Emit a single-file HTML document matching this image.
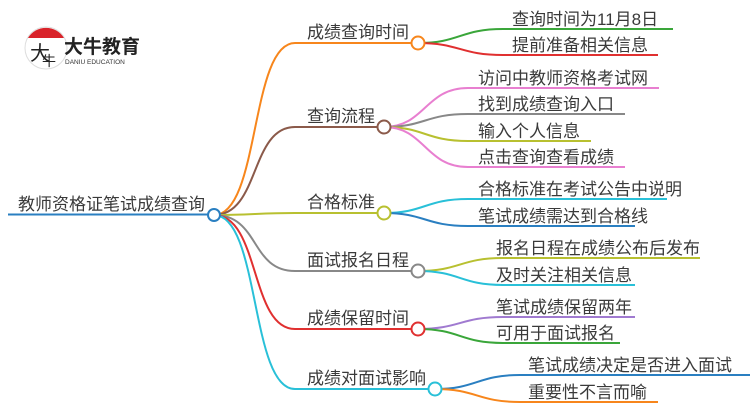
<!DOCTYPE html>
<html><head><meta charset="utf-8"><style>
html,body{margin:0;padding:0;background:#fff;width:750px;height:410px;overflow:hidden}
text{font-family:"Liberation Sans","Noto Sans CJK SC",sans-serif;fill:#3a3a3a}
</style></head><body>
<svg width="750" height="410" viewBox="0 0 750 410" xmlns="http://www.w3.org/2000/svg" fill="none">
<!-- logo -->
<g>
<circle cx="46" cy="48" r="21" fill="#fff" stroke="#ddd" stroke-width="1"/>
<path d="M28 38 A21 21 0 0 1 64 38 Z" fill="#d9232a"/>
<text x="30" y="60" font-size="20" style="fill:#222">大</text>
<text x="42" y="66" font-size="14" style="fill:#222">牛</text>
<text x="64" y="53" font-size="19" font-weight="bold" style="fill:#222">大牛教育</text>
<text x="65" y="64" font-size="6.5" style="fill:#333">DANIU EDUCATION</text>
</g>
<!-- root -->
<text x="18" y="210" font-size="17">教师资格证笔试成绩查询</text>
<path d="M8 214.5 H208" stroke="#2a7fc1" stroke-width="2"/>
<!-- level1 curves -->
<g stroke-width="2">
<path d="M214 215 C260 215 250 43 295 43 H412" stroke="#f7861c"/>
<path d="M214 215 C260 215 250 127 295 127 H378" stroke="#8b5a4a"/>
<path d="M214 215 C250 215 260 213 295 213 H378" stroke="#b8c030"/>
<path d="M214 215 C260 215 250 271 295 271 H412" stroke="#888"/>
<path d="M214 215 C260 215 250 329 295 329 H412" stroke="#e03030"/>
<path d="M214 215 C260 215 250 389 295 389 H429" stroke="#29c0d8"/>
</g>
<g font-size="17">
<text x="307" y="38">成绩查询时间</text>
<text x="307" y="122">查询流程</text>
<text x="307" y="208">合格标准</text>
<text x="307" y="266">面试报名日程</text>
<text x="307" y="324">成绩保留时间</text>
<text x="307" y="384">成绩对面试影响</text>
</g>
<!-- leaves -->
<g stroke-width="2">
<path d="M418 43 C460 43 460 29 503 29 H673" stroke="#3aa63a"/>
<path d="M418 43 C460 43 460 55 503 55 H658" stroke="#e03030"/>
<path d="M384 127 C425 127 425 88 468 88 H659" stroke="#e87fd0"/>
<path d="M384 127 C425 127 425 114 468 114 H625" stroke="#888"/>
<path d="M384 127 C425 127 425 141 468 141 H591" stroke="#b8c030"/>
<path d="M384 127 C425 127 425 167 468 167 H625" stroke="#e87fd0"/>
<path d="M384 213 C425 213 425 199 468 199 H667" stroke="#29c0d8"/>
<path d="M384 213 C425 213 425 226 468 226 H635" stroke="#2a7fc1"/>
<path d="M418 271 C460 271 460 258 503 258 H700" stroke="#b8c030"/>
<path d="M418 271 C460 271 460 285 503 285 H635" stroke="#29c0d8"/>
<path d="M418 329 C460 329 460 317 503 317 H635" stroke="#a07ad0"/>
<path d="M418 329 C460 329 460 343 503 343 H620" stroke="#3aa63a"/>
<path d="M435 389 C477 389 477 375 520 375 H750" stroke="#2a7fc1"/>
<path d="M435 389 C477 389 477 402 520 402 H658" stroke="#f7861c"/>
</g>
<g font-size="17">
<text x="512" y="25">查询时间为11月8日</text>
<text x="512" y="51">提前准备相关信息</text>
<text x="478" y="84">访问中教师资格考试网</text>
<text x="478" y="110">找到成绩查询入口</text>
<text x="478" y="137">输入个人信息</text>
<text x="478" y="163">点击查询查看成绩</text>
<text x="478" y="195">合格标准在考试公告中说明</text>
<text x="478" y="222">笔试成绩需达到合格线</text>
<text x="496" y="254">报名日程在成绩公布后发布</text>
<text x="496" y="281">及时关注相关信息</text>
<text x="496" y="313">笔试成绩保留两年</text>
<text x="496" y="339">可用于面试报名</text>
<text x="528" y="371">笔试成绩决定是否进入面试</text>
<text x="528" y="398">重要性不言而喻</text>
</g>
<!-- circles -->
<g stroke-width="2" fill="#fff">
<circle cx="214" cy="215" r="6" stroke="#2a7fc1"/>
<circle cx="418" cy="43" r="6.5" stroke="#f7861c"/>
<circle cx="384" cy="127" r="6.5" stroke="#8b5a4a"/>
<circle cx="384" cy="213" r="6.5" stroke="#b8c030"/>
<circle cx="418" cy="271" r="6.5" stroke="#888"/>
<circle cx="418" cy="329" r="6.5" stroke="#e03030"/>
<circle cx="435" cy="389" r="6.5" stroke="#29c0d8"/>
</g>
</svg>
</body></html>
